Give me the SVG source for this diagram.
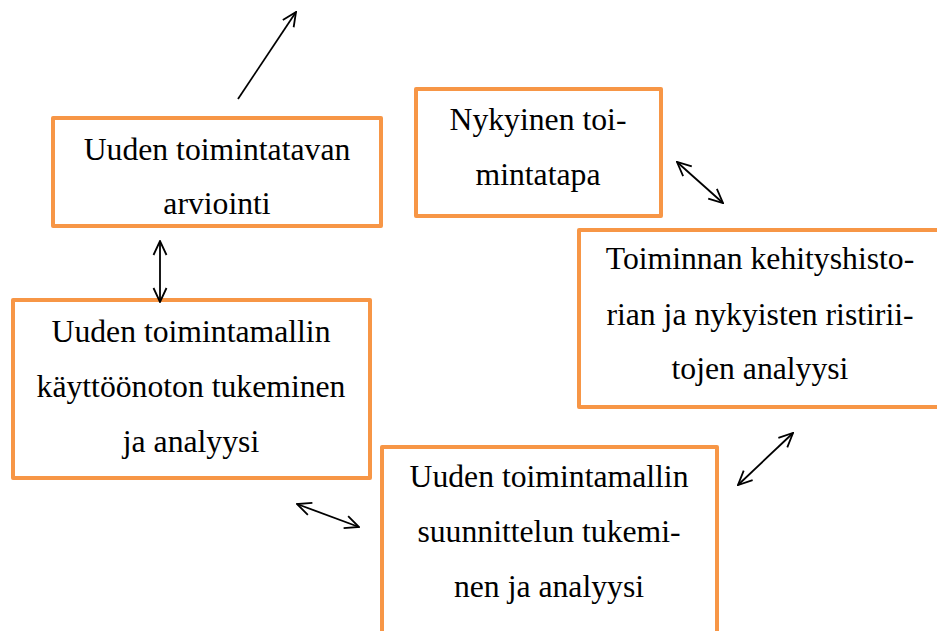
<svg xmlns="http://www.w3.org/2000/svg" width="937" height="631" viewBox="0 0 937 631">
  <style>
    .box { fill: #ffffff; stroke: #F79646; stroke-width: 4; stroke-linejoin: round; }
    .lbl { font-family: 'Liberation Serif', 'DejaVu Serif', serif; font-size: 31.7px; fill: #000000; text-anchor: middle; }
    .conn { stroke: #000000; stroke-width: 1.8; fill: none; marker-end: url(#ah); }
    .dbl { marker-start: url(#ah); }
  </style>
  <defs>
    <marker id="ah" viewBox="0 0 16 16" markerWidth="16" markerHeight="16" refX="15" refY="8" orient="auto-start-reverse" markerUnits="userSpaceOnUse">
      <path d="M1,1.5 L15,8 L1,14.5" fill="none" stroke="#000000" stroke-width="1.8" stroke-linejoin="miter"/>
    </marker>
  </defs>
  <rect width="937" height="631" fill="#ffffff"/>

  <g id="node-arviointi">
    <rect class="box" x="53" y="118" width="328" height="108"/>
    <text class="lbl" font-family="Liberation Serif, serif" x="217" y="160">Uuden toimintatavan</text>
    <text class="lbl" font-family="Liberation Serif, serif" x="217" y="214">arviointi</text>
  </g>

  <g id="node-nykyinen">
    <rect class="box" x="416" y="89" width="245" height="127"/>
    <text class="lbl" x="538" y="130">Nykyinen toi-</text>
    <text class="lbl" x="538" y="185">mintatapa</text>
  </g>

  <g id="node-historia">
    <rect class="box" x="579" y="230" width="365" height="177"/>
    <text class="lbl" x="760" y="269">Toiminnan kehityshisto-</text>
    <text class="lbl" x="760" y="325">rian ja nykyisten ristirii-</text>
    <text class="lbl" x="760" y="379">tojen analyysi</text>
  </g>

  <g id="node-kayttoonotto">
    <rect class="box" x="13" y="300" width="357" height="178"/>
    <text class="lbl" x="191" y="342">Uuden toimintamallin</text>
    <text class="lbl" x="191" y="397">käyttöönoton tukeminen</text>
    <text class="lbl" x="191" y="452">ja analyysi</text>
  </g>

  <g id="node-suunnittelu">
    <rect class="box" x="382" y="447" width="335" height="200"/>
    <text class="lbl" x="549" y="487">Uuden toimintamallin</text>
    <text class="lbl" x="549" y="542">suunnittelun tukemi-</text>
    <text class="lbl" x="549" y="597">nen ja analyysi</text>
  </g>

  <g id="connectors">
    <line class="conn" x1="238" y1="99" x2="296" y2="12"/>
    <line class="conn dbl" x1="677" y1="162" x2="723" y2="203"/>
    <line class="conn dbl" x1="160" y1="241" x2="160" y2="302"/>
    <line class="conn dbl" x1="297" y1="504" x2="359" y2="527"/>
    <line class="conn dbl" x1="738" y1="485" x2="793" y2="433"/>
  </g>
</svg>
